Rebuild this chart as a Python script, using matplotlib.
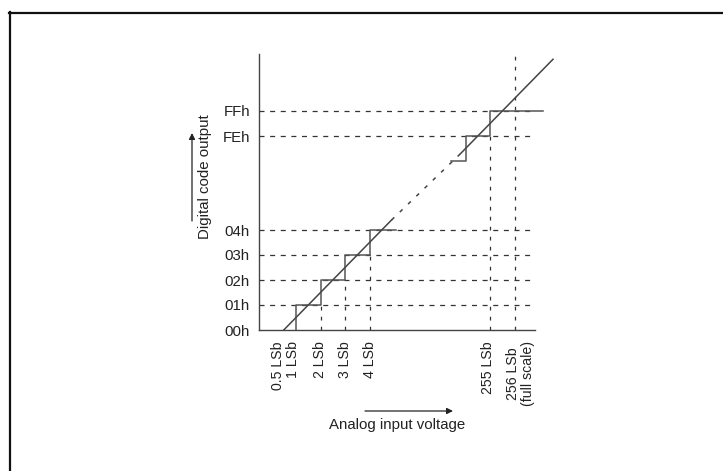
# ADC transfer function sketch: digital code vs analog input (broken scale)

import matplotlib
matplotlib.use('Agg')
import matplotlib.pyplot as plt
import numpy as np
from matplotlib.lines import Line2D

plt.rcParams['font.family'] = ['Liberation Sans', 'DejaVu Sans']

# codes shown on the y axis (decimal value, label)
code_values = [0, 1, 2, 3, 4, 254, 255]
code_labels = ['00h', '01h', '02h', '03h', '04h', 'FEh', 'FFh']

# input levels shown on the x axis (in LSb)
lsb_values = [0.5, 1, 2, 3, 4, 255, 256]
lsb_labels = ['0.5 LSb', '1 LSb', '2 LSb', '3 LSb', '4 LSb', '255 LSb', '256 LSb\n(full scale)']

# staircase (x in LSb, code held from x until next x)
low_step_x = [1, 1, 2, 3, 4, 5.1]
low_step_code = [0, 1, 2, 3, 4, 4]
high_step_x = [253.4, 254, 255, 257.16]
high_step_code = [253, 254, 255, 255]

# ideal line code = input - 0.5 LSb; solid parts and a dotted gap between
low_line_x = [0.5, 4.9]
high_line_x = [253.77, 257.57]

# dotted verticals: (input in LSb, top code)
vdots_x = [2, 3, 4, 255]
vdots_top = [1, 2, 3, 254]

# broken-scale layout: where 255 LSb and FEh land on the compressed axes
X_BREAK = 8.92
Y_BREAK = 7.76


def xmap(v):
    v = np.asarray(v, dtype=float)
    return np.where(v < 100, v, v - 255 + X_BREAK)


def ymap(c):
    c = np.asarray(c, dtype=float)
    return np.where(c < 100, c, c - 254 + Y_BREAK)


W, H = 723, 471
fig = plt.figure(figsize=(W / 100, H / 100), dpi=100)

# axes corner at pixel (259, 330); 1 LSb ~ 24.5 px, 1 code ~ 25 px
x0_px, y0_px, xunit, yunit = 259, 330, 24.5, 25.0
origin_px = 271.5
right_px, top_px = 575, 40
ax = fig.add_axes([x0_px / W, (H - y0_px) / H, (right_px - x0_px) / W, (y0_px - top_px) / H])
ax.set_xlim((x0_px - origin_px) / xunit, (right_px - origin_px) / xunit)
ax.set_ylim(0, (y0_px - top_px) / yunit)

for s in ['top', 'right']:
    ax.spines[s].set_visible(False)
ax.spines['left'].set_bounds(0, (y0_px - 54) / yunit)
ax.spines['bottom'].set_bounds((x0_px - origin_px) / xunit, (535 - origin_px) / xunit)
for s in ['left', 'bottom']:
    ax.spines[s].set_color('#444444')
    ax.spines[s].set_linewidth(1.0)

dash_col = '#333333'
xr_end = (535 - origin_px) / xunit
xl = (x0_px - origin_px) / xunit

# horizontal dashed code lines
for c in code_values[1:]:
    ax.plot([xl, xr_end], [ymap(c), ymap(c)], color=dash_col, lw=0.9,
            linestyle=(0, (4, 4.5)), clip_on=False)

# vertical dotted lines
for v, t in zip(vdots_x, vdots_top):
    ax.plot([xmap(v), xmap(v)], [0, ymap(t)], color=dash_col, lw=0.9,
            linestyle=(0, (3, 5)), clip_on=False)
ax.plot([xmap(256), xmap(256)], [0, (y0_px - 55) / yunit], color=dash_col, lw=0.9,
        linestyle=(0, (3, 5)), clip_on=False)

# staircases
ax.step(xmap(low_step_x), ymap(low_step_code), where='post', color='#555555', lw=1.1)
ax.step(xmap(high_step_x), ymap(high_step_code), where='post', color='#555555', lw=1.1)

# ideal transfer line
lx = np.array(low_line_x)
hx = np.array(high_line_x)
ax.plot(xmap(lx), ymap(lx - 0.5), color='#444444', lw=1.1)
ax.plot(xmap(hx), ymap(hx - 0.5), color='#444444', lw=1.1)
ax.plot([xmap(lx[-1]), xmap(hx[0])], [ymap(lx[-1] - 0.5), ymap(hx[0] - 0.5)],
        color='#444444', lw=1.1, linestyle=(0, (2.5, 5)))

# y tick labels
ax.set_yticks(ymap(code_values))
ax.set_yticklabels(code_labels)
ax.tick_params(axis='y', length=0, pad=6.5, labelsize=10.8, labelcolor='#222222')
ax.set_xticks([])

# x labels, rotated; first two nudged apart in pixels
label_nudge = [-6, -3, 0, 0, 0, -2, 6]
for v, lab, dx in zip(lsb_values, lsb_labels, label_nudge):
    xpx = origin_px + float(xmap(v)) * xunit + dx
    fig.text(xpx / W, 1 - 341 / H, lab, rotation=90, ha='center', va='top',
             fontsize=10.2, color='#222222', multialignment='center', linespacing=1.1)

# axis titles with arrows
fig.text(205 / W, 1 - 177 / H, 'Digital code output', rotation=90, ha='center',
         va='center', fontsize=10.8, color='#222222')
fig.text(397.5 / W, 1 - 425 / H, 'Analog input voltage', ha='center', va='center',
         fontsize=10.8, color='#222222')
arrow = dict(arrowstyle='-|>', lw=0.9, color='#222222', mutation_scale=9,
             shrinkA=0, shrinkB=0)
ax.annotate('', xy=(192, H - 133), xytext=(192, H - 221), xycoords='figure pixels',
            textcoords='figure pixels', arrowprops=arrow)
ax.annotate('', xy=(453, H - 411), xytext=(365, H - 411), xycoords='figure pixels',
            textcoords='figure pixels', arrowprops=arrow)

# outer frame (left and top edges only visible)
fig.add_artist(Line2D([9.5 / W, 9.5 / W], [0, 1 - 12 / H], color='#111111', lw=1.6,
                      transform=fig.transFigure))
fig.add_artist(Line2D([9 / W, 1], [1 - 12.5 / H, 1 - 12.5 / H], color='#111111', lw=1.6,
                      transform=fig.transFigure))

fig.savefig('out.png', dpi=100)
